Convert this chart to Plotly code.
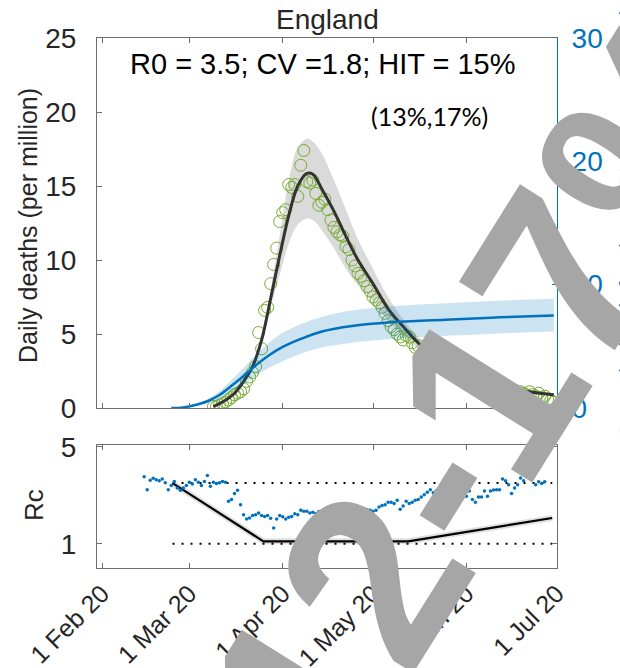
import plotly.graph_objects as go
import pandas as pd

W, H = 620, 668

# ---------------- data ----------------
# model fit of daily deaths (per million) with credible band
model_dates = ["2020-03-09", "2020-03-12", "2020-03-16", "2020-03-19", "2020-03-22",
               "2020-03-25", "2020-03-28", "2020-03-31", "2020-04-03", "2020-04-06",
               "2020-04-09", "2020-04-11", "2020-04-14", "2020-04-18", "2020-04-22",
               "2020-04-26", "2020-05-01", "2020-05-06", "2020-05-11", "2020-05-16",
               "2020-05-23", "2020-06-01", "2020-06-10", "2020-06-20", "2020-06-30"]
model_mid = [0.1, 0.4, 1.0, 1.8, 2.8, 4.6, 7.4, 10.3, 13.0, 15.0, 15.85, 15.8, 14.8,
             13.3, 11.6, 10.0, 8.4, 6.7, 5.5, 4.4, 3.3, 2.3, 1.6, 1.15, 0.9]
model_lo = [0.08, 0.36, 0.92, 1.65, 2.6, 4.3, 6.8, 9.0, 11.1, 12.4, 12.8, 12.7, 12.0,
            10.8, 9.4, 8.3, 7.2, 5.9, 4.9, 4.0, 3.0, 2.1, 1.45, 1.05, 0.82]
model_hi = [0.12, 0.44, 1.08, 1.95, 3.0, 4.95, 8.0, 11.6, 15.4, 17.6, 18.2, 18.0, 17.2,
            15.4, 13.4, 11.4, 9.4, 7.5, 6.0, 4.8, 3.6, 2.5, 1.75, 1.3, 1.0]

# observed daily deaths (per million), daily from 9 Mar 2020
deaths_start = "2020-03-09"
deaths_vals = [0.1, 0.1, 0.2, 0.3, 0.4, 0.55, 0.7, 0.9, 1.0, 1.1, 1.3, 1.8, 2.1, 2.4, 2.8,
               5.1, 4.0, 6.6, 6.8, 8.4, 9.7, 10.8, 12.6,
               13.2, 13.4, 15.1, 14.9, 15.1, 14.3, 16.4, 17.4, 15.3, 15.2, 15.4, 14.5, 13.7,
               13.9, 14.1, 13.4, 12.7, 12.2, 11.9, 11.7, 11.6, 10.9, 10.7, 10.0, 9.6, 9.1,
               8.9, 8.6, 8.2, 7.9,
               7.5, 7.3, 7.1, 6.8, 6.4, 5.9, 5.5, 5.3, 5.0, 4.8, 4.6, 4.9, 4.8, 4.4, 4.1,
               4.2, 3.6, 3.9, 3.8, 3.5, 3.4, 3.1, 3.0, 2.7, 2.9, 2.8, 2.6, 2.4, 2.3, 2.2, 2.0,
               2.1, 1.9, 2.0, 1.8, 1.7, 1.6, 1.7, 1.5, 1.6, 1.4, 1.5, 1.3, 1.2, 1.3, 1.2,
               1.1, 1.2, 1.0, 1.1, 1.0, 0.9, 1.1, 0.9, 0.8, 1.0, 0.7, 0.8, 0.6, 0.5, 0.4]

# cumulative infections (%) – right axis
inf_dates = ["2020-02-24", "2020-02-28", "2020-03-03", "2020-03-07", "2020-03-11",
             "2020-03-15", "2020-03-19", "2020-03-23", "2020-03-27", "2020-04-01",
             "2020-04-07", "2020-04-14", "2020-04-24", "2020-05-07", "2020-05-25",
             "2020-06-12", "2020-06-30"]
inf_mid = [0.0, 0.05, 0.25, 0.55, 1.05, 1.8, 2.6, 3.45, 4.2, 4.95, 5.6, 6.2, 6.65,
           6.95, 7.15, 7.35, 7.5]
inf_lo = [0.0, 0.04, 0.15, 0.4, 0.8, 1.35, 1.95, 2.6, 3.2, 3.8, 4.4, 4.9, 5.3, 5.6,
          5.85, 6.05, 6.2]
inf_hi = [0.0, 0.06, 0.3, 0.7, 1.35, 2.3, 3.25, 4.3, 5.2, 6.1, 6.8, 7.4, 7.9, 8.25,
          8.5, 8.7, 8.85]

# Rc estimated from data, daily from 15 Feb 2020
rc_start = "2020-02-15"
rc_vals = [3.76, 3.23, 3.62, 3.70, 3.64, 3.60, 3.67, 3.51, 3.23, 3.40,
           3.57, 3.30, 3.20, 3.30, 3.40, 3.53, 3.46, 3.64, 3.53, 3.40,
           3.57, 3.81, 3.37, 3.53, 3.48, 3.51, 3.57, 3.53, 2.75, 2.82,
           3.07, 3.20, 2.61, 2.20, 2.02, 2.06, 2.16, 2.20, 2.27, 2.16,
           2.12, 2.16, 2.05, 1.65, 2.02, 2.16, 2.11, 2.02, 2.09, 2.12,
           2.24, 2.20, 2.38, 2.34, 2.34, 2.27, 2.30, 2.25, 2.33, 2.28,
           2.36, 2.31, 2.40, 2.29, 2.35, 2.42, 2.33, 2.38, 2.30, 2.44,
           2.37, 2.41, 2.35, 2.45, 2.40, 2.38, 2.34, 2.38, 2.51, 2.58,
           2.61, 2.71, 2.71, 2.66, 2.79, 2.42, 2.56, 2.75, 2.66, 2.71,
           2.79, 2.82, 2.93, 3.02, 3.12, 3.23, 3.10, 3.18, 3.05, 3.20,
           3.12, 3.25, 3.08, 3.15, 3.22, 3.04, 3.10, 2.96, 3.17, 2.82,
           2.71, 2.93, 2.93, 3.17, 2.96, 3.17, 3.21, 3.23, 3.23, 3.67,
           3.60, 3.43, 3.07, 3.30, 3.43, 3.71, 3.60, 3.76, 3.71, 3.76,
           3.43, 3.56, 3.48, 3.56]

# model Rc (piecewise linear)
rc_model_dates = ["2020-02-24 10:00", "2020-03-25 14:00", "2020-05-12 17:00", "2020-06-29 12:00"]
rc_model_vals = [3.5, 1.1, 1.1, 2.06]
ref_dates = ["2020-02-24 10:00", "2020-06-29 12:00"]
R0 = 3.5

month_ticks = ["2020-02-01", "2020-03-01", "2020-04-01", "2020-05-01", "2020-06-01", "2020-07-01"]
month_labels = ["1 Feb 20", "1 Mar 20", "1 Apr 20", "1 May 20", "1 Jun 20", "1 Jul 20"]
left_ticks = [0, 5, 10, 15, 20, 25]
right_ticks = [0, 10, 20, 30]
rc_ticks = [1, 5]

title_text = "England"
param_text = "R0 = 3.5; CV =1.8; HIT = 15%"
ci_text = "(13%,17%)"
overlay_text = "12-17%"

# ---------------- styles ----------------
FONT = "Liberation Sans, Arial, Helvetica, sans-serif"
TXT = "#262626"
AX = "#6e6e6e"
BLUE = "#0072bd"
GREEN = "#77ac30"
XR = ["2020-01-30 08:00", "2020-07-01 02:00"]

deaths_dates = pd.date_range(deaths_start, periods=len(deaths_vals), freq="D")
rc_dates = pd.date_range(rc_start, periods=len(rc_vals), freq="D")

fig = go.Figure()

# deaths band
fig.add_trace(go.Scatter(x=model_dates, y=model_hi, mode="lines", line=dict(width=0, shape="spline"),
                         hoverinfo="skip", showlegend=False, xaxis="x", yaxis="y"))
fig.add_trace(go.Scatter(x=model_dates, y=model_lo, mode="lines", line=dict(width=0, shape="spline"),
                         fill="tonexty", fillcolor="rgba(150,150,150,0.35)",
                         hoverinfo="skip", showlegend=False, xaxis="x", yaxis="y"))
# observed deaths
fig.add_trace(go.Scatter(x=deaths_dates, y=deaths_vals, mode="markers",
                         marker=dict(symbol="circle-open", size=12, color=GREEN, line=dict(width=1)),
                         showlegend=False, xaxis="x", yaxis="y"))
# model deaths
fig.add_trace(go.Scatter(x=model_dates, y=model_mid, mode="lines",
                         line=dict(color="#333333", width=3, shape="spline"),
                         showlegend=False, xaxis="x", yaxis="y"))

# infections band + line (right axis)
fig.add_trace(go.Scatter(x=inf_dates, y=inf_hi, mode="lines", line=dict(width=0, shape="spline"),
                         hoverinfo="skip", showlegend=False, xaxis="x", yaxis="y3"))
fig.add_trace(go.Scatter(x=inf_dates, y=inf_lo, mode="lines", line=dict(width=0, shape="spline"),
                         fill="tonexty", fillcolor="rgba(0,114,189,0.2)",
                         hoverinfo="skip", showlegend=False, xaxis="x", yaxis="y3"))
fig.add_trace(go.Scatter(x=inf_dates, y=inf_mid, mode="lines",
                         line=dict(color=BLUE, width=2.5, shape="spline"),
                         showlegend=False, xaxis="x", yaxis="y3"))

# Rc panel
for yv in [R0, 1]:
    fig.add_trace(go.Scatter(x=ref_dates, y=[yv, yv], mode="lines",
                             line=dict(color="black", width=2, dash="2px,7px"),
                             showlegend=False, xaxis="x2", yaxis="y2"))
fig.add_trace(go.Scatter(x=rc_model_dates, y=rc_model_vals, mode="lines",
                         line=dict(color="rgba(0,0,0,0.12)", width=6),
                         showlegend=False, xaxis="x2", yaxis="y2"))
fig.add_trace(go.Scatter(x=rc_model_dates, y=rc_model_vals, mode="lines",
                         line=dict(color="black", width=2.2),
                         showlegend=False, xaxis="x2", yaxis="y2"))
fig.add_trace(go.Scatter(x=rc_dates, y=rc_vals, mode="markers",
                         marker=dict(size=3.5, color=BLUE),
                         showlegend=False, xaxis="x2", yaxis="y2"))

xdom = [97 / W, 557 / W]
ytick_font = dict(family=FONT, size=28, color=TXT)
xtick_font = dict(family=FONT, size=25, color=TXT)

fig.update_layout(
    width=W, height=H, margin=dict(l=0, r=0, t=0, b=0, autoexpand=False),
    paper_bgcolor="white", plot_bgcolor="white",
    xaxis=dict(domain=xdom, anchor="y", range=XR, type="date", automargin=False,
               tickvals=month_ticks, showticklabels=False, ticks="inside", ticklen=5,
               tickcolor=AX, showline=True, linecolor=AX, linewidth=1, mirror="ticks",
               showgrid=False, zeroline=False),
    yaxis=dict(domain=[1 - 408 / H, 1 - 38 / H], anchor="x", range=[0, 25], automargin=False,
               tickvals=left_ticks, ticks="inside", ticklen=5, tickcolor=AX,
               showline=True, linecolor=AX, linewidth=1, mirror=False,
               showgrid=False, zeroline=False, tickfont=ytick_font, ticklabelstandoff=14),
    yaxis3=dict(overlaying="y", anchor="x", side="right", range=[0, 30], automargin=False,
                tickvals=right_ticks, ticks="inside", ticklen=5, tickcolor=BLUE,
                showline=True, linecolor=BLUE, linewidth=1, showgrid=False, zeroline=False,
                tickfont=dict(family=FONT, size=28, color=BLUE), ticklabelstandoff=8),
    xaxis2=dict(domain=xdom, anchor="y2", range=XR, type="date", automargin=False,
                tickvals=month_ticks, ticktext=month_labels, tickangle=-45,
                ticks="inside", ticklen=5, tickcolor=AX,
                showline=True, linecolor=AX, linewidth=1, mirror="ticks",
                showgrid=False, zeroline=False, tickfont=xtick_font),
    yaxis2=dict(domain=[1 - 568 / H, 1 - 445 / H], anchor="x2", range=[0, 5.07], automargin=False,
                tickvals=rc_ticks, ticks="inside", ticklen=5, tickcolor=AX,
                showline=True, linecolor=AX, linewidth=1, mirror="ticks",
                showgrid=False, zeroline=False, tickfont=ytick_font, ticklabelstandoff=14),
)

def P(x, y):
    return dict(x=x / W, y=1 - y / H, xref="paper", yref="paper")

ann = [
    dict(**P(327, 19), text=title_text, showarrow=False, xanchor="center", yanchor="middle",
         font=dict(family=FONT, size=28, color=TXT)),
    dict(**P(323, 64), text=param_text, showarrow=False, xanchor="center", yanchor="middle",
         font=dict(family=FONT, size=29, color="black")),
    dict(**P(429, 116), text=ci_text, showarrow=False, xanchor="center", yanchor="middle",
         font=dict(family="Lato, Carlito, sans-serif", size=25, color="black")),
    dict(**P(28, 226), text="Daily deaths (per million)", showarrow=False, textangle=-90,
         xanchor="center", yanchor="middle", font=dict(family=FONT, size=25, color=TXT)),
    dict(**P(34, 505), text="Rc", showarrow=False, textangle=-90,
         xanchor="center", yanchor="middle", font=dict(family=FONT, size=26, color=TXT)),
    dict(**P(613, 223), text="Cumulative infections (% of population)", showarrow=False,
         textangle=-90, xanchor="left", yanchor="middle",
         font=dict(family=FONT, size=25, color=BLUE)),
    dict(**P(488, 393), text=overlay_text, showarrow=False, textangle=-58,
         xanchor="center", yanchor="middle",
         font=dict(family=FONT, size=245, color="#a6a6a6", weight="bold")),
]
fig.update_layout(annotations=ann)

fig.write_html("out.html")
